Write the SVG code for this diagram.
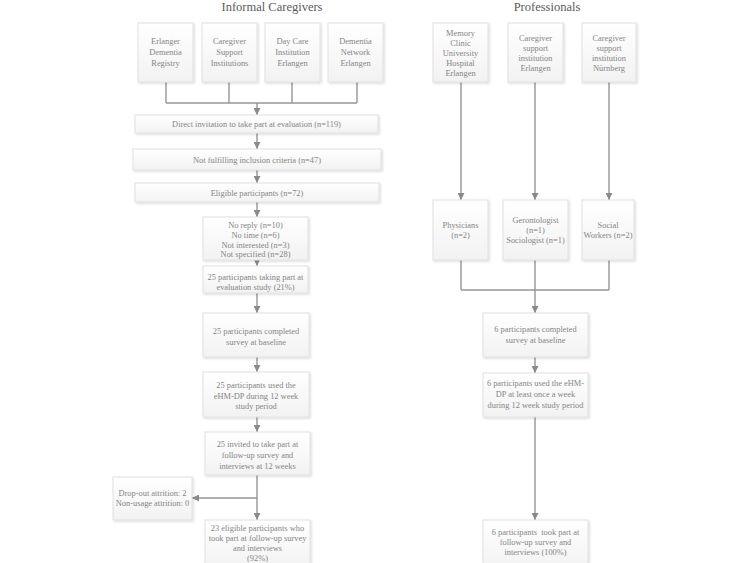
<svg xmlns="http://www.w3.org/2000/svg" width="750" height="563" viewBox="0 0 750 563">
<style>
.bg{fill:#ffffff}
.box rect{fill:url(#g);stroke:#e0e0e0;stroke-width:1;filter:url(#sh)}
.box text,.t{font-family:"Liberation Serif","Times New Roman",serif;font-size:8.4px;fill:#858585;text-anchor:middle}
.title{font-family:"Liberation Serif","Times New Roman",serif;font-size:12.5px;fill:#5a5a5a;text-anchor:middle}
.c path{fill:none;stroke:#969696;stroke-width:1.4}
</style>
<defs>
<linearGradient id="g" x1="0" y1="0" x2="0" y2="1">
<stop offset="0" stop-color="#ffffff"/>
<stop offset="1" stop-color="#f2f2f2"/>
</linearGradient>
<filter id="sh" x="-10%" y="-10%" width="130%" height="140%">
<feDropShadow dx="1.2" dy="1.2" stdDeviation="0.8" flood-color="#000" flood-opacity="0.15"/>
</filter>
<marker id="a" viewBox="0 0 10 10" refX="10" refY="5" markerWidth="7" markerHeight="7" markerUnits="userSpaceOnUse" orient="auto">
<path d="M0,0 L10,5 L0,10 z" fill="#8a8a8a"/>
</marker>
</defs>
<rect class="bg" width="750" height="563"/>
<text class="title" x="272" y="11">Informal Caregivers</text>
<text class="title" x="547" y="11">Professionals</text>

<g class="c" id="connectors">
<path d="M166,82 V103 M229,82 V103 M292,82 V103 M357,82 V103 M166,103 H357"/>
<path d="M257,103 V115" marker-end="url(#a)"/>
<path d="M257,133 V149" marker-end="url(#a)"/>
<path d="M257,170 V183" marker-end="url(#a)"/>
<path d="M257,202 V217" marker-end="url(#a)"/>
<path d="M257,260 V266" marker-end="url(#a)"/>
<path d="M257,293 V313" marker-end="url(#a)"/>
<path d="M257,357 V372" marker-end="url(#a)"/>
<path d="M257,417 V432" marker-end="url(#a)"/>
<path d="M257,475 V520" marker-end="url(#a)"/>
<path d="M257,498 H192" marker-end="url(#a)"/>
<path d="M461,82 V200" marker-end="url(#a)"/>
<path d="M535,82 V200" marker-end="url(#a)"/>
<path d="M609,82 V200" marker-end="url(#a)"/>
<path d="M461,260 V290 M535,260 V290 M609,260 V290 M461,290 H609"/>
<path d="M535,290 V313" marker-end="url(#a)"/>
<path d="M535,357 V373" marker-end="url(#a)"/>
<path d="M535,417 V520" marker-end="url(#a)"/>
</g>

<g class="box" id="n-erlanger"><rect x="138" y="23" width="55" height="59"/><text x="165.5" y="44">Erlanger</text><text x="165.5" y="55">Dementia</text><text x="165.5" y="66">Registry</text></g>
<g class="box" id="n-support"><rect x="202" y="23" width="55" height="59"/><text x="229.5" y="44">Caregiver</text><text x="229.5" y="55">Support</text><text x="229.5" y="66">Institutions</text></g>
<g class="box" id="n-daycare"><rect x="265" y="23" width="55" height="59"/><text x="292.5" y="44">Day Care</text><text x="292.5" y="55">Institution</text><text x="292.5" y="66">Erlangen</text></g>
<g class="box" id="n-network"><rect x="328" y="23" width="55" height="59"/><text x="355.5" y="44">Dementia</text><text x="355.5" y="55">Network</text><text x="355.5" y="66">Erlangen</text></g>

<g class="box" id="n-invite"><rect x="135" y="115" width="243" height="18"/><text x="256.5" y="127">Direct invitation to take part at evaluation (n=119)</text></g>
<g class="box" id="n-notfulfil"><rect x="133" y="149" width="248" height="21"/><text x="257" y="162.5">Not fulfilling inclusion criteria (n=47)</text></g>
<g class="box" id="n-eligible"><rect x="135" y="183" width="244" height="19"/><text x="257" y="195.5">Eligible participants (n=72)</text></g>
<g class="box" id="n-noreply"><rect x="203" y="217" width="105" height="43"/><text x="255.5" y="228">No reply (n=10)</text><text x="255.5" y="238">No time (n=6)</text><text x="255.5" y="247.5">Not interested (n=3)</text><text x="255.5" y="257">Not specified (n=28)</text></g>
<g class="box" id="n-taking"><rect x="203" y="266" width="105" height="27"/><text x="255.5" y="280">25 participants taking part at</text><text x="255.5" y="289.5">evaluation study (21%)</text></g>
<g class="box" id="n-completed-l"><rect x="203" y="313" width="106" height="44"/><text x="256" y="334">25 participants completed</text><text x="256" y="345">survey at baseline</text></g>
<g class="box" id="n-used-l"><rect x="203" y="372" width="106" height="45"/><text x="256" y="388">25 participants used the</text><text x="256" y="398.5">eHM-DP during 12 week</text><text x="256" y="409">study period</text></g>
<g class="box" id="n-invited"><rect x="205" y="432" width="105" height="43"/><text x="257.5" y="447">25 invited to take part at</text><text x="257.5" y="458">follow-up survey and</text><text x="257.5" y="469">interviews at 12 weeks</text></g>
<g class="box" id="n-dropout"><rect x="113" y="477" width="79" height="43"/><text x="152.5" y="496">Drop-out attrition: 2</text><text x="152.5" y="506">Non-usage attrition: 0</text></g>
<g class="box" id="n-final-l"><rect x="205" y="520" width="105" height="50"/><text x="257.5" y="531">23 eligible participants who</text><text x="257.5" y="541">took part at follow-up survey</text><text x="257.5" y="551">and interviews</text><text x="257.5" y="561">(92%)</text></g>

<g class="box" id="n-memory"><rect x="433" y="23" width="55" height="59"/><text x="460.5" y="36">Memory</text><text x="460.5" y="46">Clinic</text><text x="460.5" y="56">University</text><text x="460.5" y="66">Hospital</text><text x="460.5" y="76">Erlangen</text></g>
<g class="box" id="n-cg-erl"><rect x="508" y="23" width="55" height="59"/><text x="535.5" y="41">Caregiver</text><text x="535.5" y="51">support</text><text x="535.5" y="61">institution</text><text x="535.5" y="71">Erlangen</text></g>
<g class="box" id="n-cg-nbg"><rect x="582" y="23" width="54" height="59"/><text x="609" y="41">Caregiver</text><text x="609" y="51">support</text><text x="609" y="61">institution</text><text x="609" y="71">Nürnberg</text></g>

<g class="box" id="n-phys"><rect x="433" y="200" width="55" height="60"/><text x="460.5" y="228">Physicians</text><text x="460.5" y="238">(n=2)</text></g>
<g class="box" id="n-geront"><rect x="503" y="200" width="65" height="60"/><text x="535.5" y="223">Gerontologist</text><text x="535.5" y="233">(n=1)</text><text x="535.5" y="243">Sociologist (n=1)</text></g>
<g class="box" id="n-social"><rect x="582" y="200" width="52" height="60"/><text x="608" y="228">Social</text><text x="608" y="238">Workers (n=2)</text></g>

<g class="box" id="n-completed-r"><rect x="483" y="313" width="105" height="44"/><text x="535.5" y="332">6 participants completed</text><text x="535.5" y="343">survey at baseline</text></g>
<g class="box" id="n-used-r"><rect x="483" y="373" width="105" height="44"/><text x="535.5" y="386">6 participants used the eHM-</text><text x="535.5" y="397">DP at least once a week</text><text x="535.5" y="408">during 12 week study period</text></g>
<g class="box" id="n-final-r"><rect x="483" y="520" width="105" height="50"/><text x="535.5" y="535">6 participants&#160; took part at</text><text x="535.5" y="545">follow-up survey and</text><text x="535.5" y="555">interviews (100%)</text></g>
</svg>
